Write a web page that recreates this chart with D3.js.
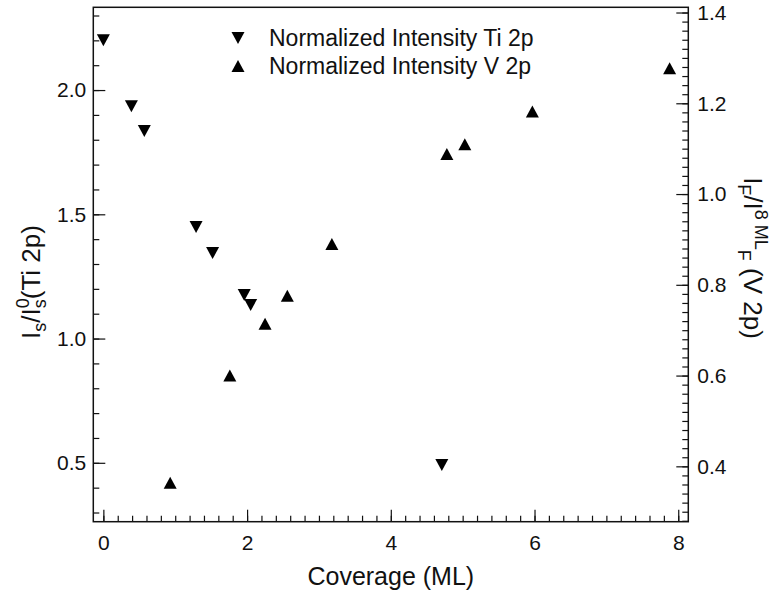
<!DOCTYPE html>
<html>
<head>
<meta charset="utf-8">
<script src="https://cdn.jsdelivr.net/npm/d3@7"></script>
<style>
  body { margin: 0; background: #fff; }
  svg { display: block; font-family: "Liberation Sans", Arial, sans-serif; }
</style>
</head>
<body>
<svg id="chart"></svg>
<script>
// Ti 2p, left axis (down triangles)
const tiCoverage = [0, 0.39, 0.57, 1.29, 1.52, 1.96, 2.05, 4.71]
const tiIntensity = [2.2, 1.935, 1.835, 1.449, 1.344, 1.175, 1.135, 0.491]

// V 2p, right axis (up triangles)
const vCoverage = [0.93, 1.76, 2.25, 2.56, 3.18, 4.78, 5.03, 5.97, 7.88]
const vIntensity = [0.364, 0.6, 0.714, 0.776, 0.89, 1.088, 1.11, 1.182, 1.277]

// tick labels
const xTicks = [0, 2, 4, 6, 8]
const leftTicks = [0.5, 1.0, 1.5, 2.0]
const rightTicks = [0.4, 0.6, 0.8, 1.0, 1.2, 1.4]

const legendLabels = ["Normalized Intensity Ti 2p", "Normalized Intensity V 2p"]

const W = 780, H = 596
const plot = { left: 93.3, right: 688.3, top: 7.3, bottom: 521.7 }

const svg = d3.select("#chart").attr("width", W).attr("height", H)

const x = d3.scaleLinear().domain([-0.14, 8.14]).range([plot.left, plot.right])
const yL = d3.scaleLinear().domain([0.263, 2.333]).range([plot.bottom, plot.top])
const yR = d3.scaleLinear().domain([0.278, 1.4115]).range([plot.bottom, plot.top])

const tickFont = 21

// minor ticks
svg.append("g")
  .attr("transform", `translate(0,${plot.bottom})`)
  .call(d3.axisBottom(x).tickValues(d3.range(0, 8.01, 0.2)).tickSize(-6).tickFormat(""))
svg.append("g")
  .attr("transform", `translate(${plot.left},0)`)
  .call(d3.axisLeft(yL).tickValues(d3.range(0.3, 2.31, 0.1)).tickSize(-6).tickFormat(""))
svg.append("g")
  .attr("transform", `translate(${plot.right},0)`)
  .call(d3.axisRight(yR).tickValues(d3.range(0.28, 1.401, 0.02)).tickSize(-6).tickFormat(""))

// major ticks with labels
svg.append("g")
  .attr("class", "axis")
  .attr("transform", `translate(0,${plot.bottom})`)
  .call(d3.axisBottom(x).tickValues(xTicks).tickSize(-12).tickPadding(13).tickFormat(d3.format("d")))
svg.append("g")
  .attr("class", "axis")
  .attr("transform", `translate(${plot.left},0)`)
  .call(d3.axisLeft(yL).tickValues(leftTicks).tickSize(-12).tickPadding(7).tickFormat(d3.format(".1f")))
svg.append("g")
  .attr("class", "axis")
  .attr("transform", `translate(${plot.right},0)`)
  .call(d3.axisRight(yR).tickValues(rightTicks).tickSize(-12).tickPadding(9).tickFormat(d3.format(".1f")))

svg.selectAll(".domain").remove()
svg.selectAll(".tick line").attr("stroke", "#111").attr("stroke-width", 1.2)
svg.selectAll(".axis text")
  .attr("font-family", "Liberation Sans, Arial, sans-serif")
  .style("font-size", tickFont + "px")
  .attr("fill", "#111")

// frame
svg.append("rect")
  .attr("x", plot.left)
  .attr("y", plot.top)
  .attr("width", plot.right - plot.left)
  .attr("height", plot.bottom - plot.top)
  .attr("fill", "none")
  .attr("stroke", "#111")
  .attr("stroke-width", 1.5)

// markers
const downTri = "M-6.5,-6L6.5,-6L0,6Z"
const upTri = "M-6.5,6L6.5,6L0,-6Z"

svg.append("g")
  .selectAll("path")
  .data(d3.zip(tiCoverage, tiIntensity))
  .enter()
  .append("path")
  .attr("d", downTri)
  .attr("transform", (d) => `translate(${x(d[0])},${yL(d[1])})`)
  .attr("fill", "#000")

svg.append("g")
  .selectAll("path")
  .data(d3.zip(vCoverage, vIntensity))
  .enter()
  .append("path")
  .attr("d", upTri)
  .attr("transform", (d) => `translate(${x(d[0])},${yR(d[1])})`)
  .attr("fill", "#000")

// legend
const legend = svg.append("g").attr("transform", "translate(238,38)")
legend.append("path").attr("d", downTri).attr("fill", "#000")
legend.append("path").attr("d", upTri).attr("transform", "translate(0,28)").attr("fill", "#000")
legend.selectAll("text")
  .data(legendLabels)
  .enter()
  .append("text")
  .attr("x", 31)
  .attr("y", (d, i) => 8 + i * 28)
  .style("font-size", "23px")
  .attr("fill", "#111")
  .text((d) => d)

// x axis title
svg.append("text")
  .attr("x", (plot.left + plot.right) / 2)
  .attr("y", 585)
  .attr("text-anchor", "middle")
  .style("font-size", "25px")
  .attr("fill", "#111")
  .text("Coverage (ML)")

// left axis title: I_s/I^0_s(Ti 2p)
const lt = svg.append("text")
  .attr("transform", `translate(40,282) rotate(-90)`)
  .attr("text-anchor", "middle")
  .style("font-size", "26px")
  .attr("fill", "#111")
lt.append("tspan").text("I")
lt.append("tspan").attr("dy", 6).style("font-size", "18px").text("s")
lt.append("tspan").attr("dy", -6).text("/I")
lt.append("tspan").attr("dy", -11).style("font-size", "18px").text("0")
lt.append("tspan").attr("dy", 17).attr("dx", -10).style("font-size", "18px").text("s")
lt.append("tspan").attr("dy", -6).text("(Ti 2p)")

// right axis title: I_F/I^{8 ML}_F (V 2p)
const rt = svg.append("text")
  .attr("transform", `translate(744,258) rotate(90)`)
  .attr("text-anchor", "middle")
  .style("font-size", "26px")
  .attr("fill", "#111")
rt.append("tspan").text("I")
rt.append("tspan").attr("dy", 6).style("font-size", "18px").text("F")
rt.append("tspan").attr("dy", -6).text("/I")
rt.append("tspan").attr("dy", -11).style("font-size", "18px").text("8 ML")
rt.append("tspan").attr("dy", 17).style("font-size", "18px").text("F")
rt.append("tspan").attr("dy", -6).text(" (V 2p)")
</script>
</body>
</html>
